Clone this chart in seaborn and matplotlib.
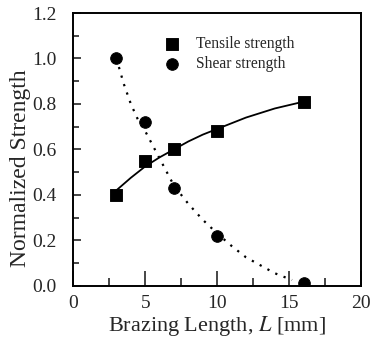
import matplotlib
matplotlib.use("Agg")
import matplotlib.pyplot as plt
import seaborn as sns
import pandas as pd
from matplotlib.ticker import MultipleLocator

# measured points
length_mm = [3, 5, 7, 10, 16]
tensile = [0.40, 0.55, 0.60, 0.68, 0.81]
shear = [1.00, 0.72, 0.43, 0.22, 0.01]

# fitted curves
tensile_fit_x = [3, 4, 5, 6, 7, 8, 9, 10, 11, 12, 13, 14, 15, 16]
tensile_fit_y = [0.42, 0.475, 0.525, 0.565, 0.60, 0.635, 0.665, 0.69, 0.715, 0.74, 0.76, 0.78, 0.795, 0.81]
shear_fit_x = [3, 3.5, 4, 4.5, 5, 5.5, 6, 6.5, 7, 8, 9, 10, 11, 12, 13, 14, 15.2]
shear_fit_y = [1.0, 0.89, 0.80, 0.73, 0.68, 0.62, 0.56, 0.50, 0.44, 0.36, 0.29, 0.23, 0.175, 0.125, 0.09, 0.055, 0.025]

sns.set_style("ticks")
plt.rcParams['font.family'] = ['Liberation Serif', 'DejaVu Serif']
plt.rcParams['mathtext.fontset'] = 'stix'

fig = plt.figure(figsize=(3.70, 3.43), dpi=100)
ax = fig.add_axes([0.198, 0.167, 0.778, 0.795])

sns.lineplot(x=tensile_fit_x, y=tensile_fit_y, ax=ax, color='black', linewidth=1.3)
sns.lineplot(x=shear_fit_x, y=shear_fit_y, ax=ax, color='black', linewidth=1.6,
             linestyle=(0, (1, 3.0)))
sns.scatterplot(x=length_mm, y=tensile, ax=ax, marker='s', s=65, color='black',
                edgecolor='black', label='Tensile strength', zorder=5)
sns.scatterplot(x=length_mm, y=shear, ax=ax, marker='o', s=70, color='black',
                edgecolor='black', label='Shear strength', zorder=5)

ax.set_xlim(0, 20)
ax.set_ylim(0, 1.2)
ax.xaxis.set_major_locator(MultipleLocator(5))
ax.xaxis.set_minor_locator(MultipleLocator(2.5))
ax.yaxis.set_major_locator(MultipleLocator(0.2))
ax.yaxis.set_minor_locator(MultipleLocator(0.1))
ax.set_yticks([0, 0.2, 0.4, 0.6, 0.8, 1.0, 1.2])
ax.set_yticklabels(['0.0', '0.2', '0.4', '0.6', '0.8', '1.0', '1.2'])
ax.tick_params(axis='x', which='major', direction='in', length=11, width=1.2, labelsize=14, pad=7)
ax.tick_params(axis='x', which='minor', direction='in', length=6, width=1.2)
ax.tick_params(axis='y', which='major', direction='in', length=6, width=1.2, labelsize=14, pad=12)
ax.tick_params(axis='y', which='minor', direction='in', length=4, width=1.2)
for sp in ax.spines.values():
    sp.set_visible(True)
    sp.set_color('black')
    sp.set_linewidth(1.4)

ax.set_xlabel('Brazing Length, $L$ [mm]', fontsize=16, labelpad=1)
ax.set_ylabel('Normalized Strength', fontsize=17)
ax.yaxis.set_label_coords(-0.148, 0.43)

ax.legend(loc='upper left', bbox_to_anchor=(0.29, 0.94), frameon=False, fontsize=11.2,
          handletextpad=0.9, labelspacing=0.3, borderaxespad=0, handlelength=1.2)

fig.savefig('out.png', dpi=100)
